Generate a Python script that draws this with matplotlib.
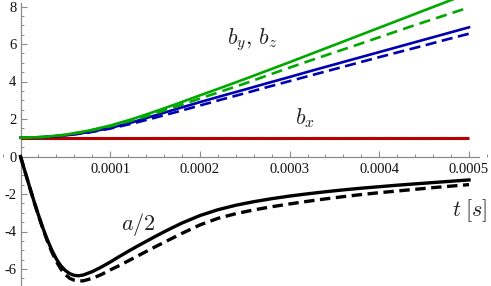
import numpy as np
import matplotlib
matplotlib.use("Agg")
import matplotlib.pyplot as plt
from matplotlib.ticker import MultipleLocator

plt.rcParams['mathtext.fontset'] = 'cm'
plt.rcParams['font.family'] = ['Liberation Serif', 'DejaVu Serif']
plt.rcParams['lines.scale_dashes'] = False

# ---- data ----
# time grid for b curves, in units of 1e-4 s
t_b = [0, 0.25, 0.5, 0.75, 1.0, 1.25, 1.5, 1.75, 2.0, 2.25, 2.5, 2.75, 3.0,
       3.25, 3.5, 3.75, 4.0, 4.25, 4.5, 4.75, 5.0]
by_solid = [1.00, 1.04, 1.16, 1.37, 1.65, 2.00, 2.40, 2.82, 3.26, 3.69, 4.13, 4.58,
            5.03, 5.49, 5.95, 6.41, 6.87, 7.33, 7.79, 8.25, 8.71]
by_dashed = [1.00, 1.04, 1.15, 1.35, 1.61, 1.93, 2.29, 2.69, 3.09, 3.49, 3.89, 4.32,
             4.74, 5.15, 5.55, 5.95, 6.36, 6.77, 7.17, 7.56, 7.95]
bz_solid = [1.00, 1.03, 1.12, 1.29, 1.52, 1.83, 2.19, 2.55, 2.90, 3.24, 3.57, 3.91,
            4.24, 4.58, 4.91, 5.24, 5.57, 5.90, 6.23, 6.56, 6.89]
bz_dashed = [1.00, 1.03, 1.12, 1.27, 1.49, 1.76, 2.07, 2.39, 2.72, 3.05, 3.37, 3.70,
             4.02, 4.34, 4.66, 4.98, 5.30, 5.61, 5.92, 6.24, 6.55]
bx_solid = [1.0] * 21
bx_dashed = [1.0] * 21

# time grid for a/2 curves, in units of 1e-5 s
t_a = [0, 0.5, 1, 1.5, 2, 2.5, 3, 3.5, 4, 4.5, 5, 5.5, 6, 6.5, 7, 8, 9, 10, 11, 12,
       13, 14, 15, 16, 17, 18, 20, 22, 24, 26, 28, 30, 32, 34, 36, 38, 40, 42, 44,
       46, 48, 50]
a_solid = [0, -0.80, -1.60, -2.38, -3.12, -3.82, -4.45, -5.00, -5.47, -5.83, -6.08,
           -6.25, -6.34, -6.36, -6.32, -6.14, -5.90, -5.63, -5.34, -5.06, -4.79, -4.53,
           -4.27, -4.02, -3.78, -3.55, -3.15, -2.84, -2.60, -2.41, -2.25, -2.11, -1.99,
           -1.88, -1.78, -1.69, -1.61, -1.53, -1.46, -1.39, -1.32, -1.25]
a_dashed = [0, -0.80, -1.61, -2.40, -3.15, -3.86, -4.52, -5.10, -5.60, -6.00, -6.30,
            -6.50, -6.60, -6.64, -6.63, -6.50, -6.30, -6.05, -5.82, -5.57, -5.32, -5.07,
            -4.82, -4.58, -4.34, -4.10, -3.65, -3.30, -3.05, -2.85, -2.68, -2.53, -2.39,
            -2.26, -2.14, -2.03, -1.93, -1.84, -1.75, -1.66, -1.58, -1.50]

xticks = [0.0001, 0.0002, 0.0003, 0.0004, 0.0005]
xticklabels = ['0.0001', '0.0002', '0.0003', '0.0004', '0.0005']
yticks = [-6, -4, -2, 0, 2, 4, 6, 8]
yticklabels = ['-6', '-4', '-2', '0', '2', '4', '6', '8']

# ---- figure ----
W, H = 491, 286
fig = plt.figure(figsize=(W / 100, H / 100), dpi=100)
ax = fig.add_axes([0, 0, 1, 1])

px_per_x = 897000.0
x0_px = 20.5
y0_px = 156.5
px_per_y = 18.75
ax.set_xlim(-x0_px / px_per_x, (W - x0_px) / px_per_x)
ax.set_ylim((y0_px - H) / px_per_y, y0_px / px_per_y)

tb = np.array(t_b) * 1e-4
ta = np.array(t_a) * 1e-5

green = '#00a800'
blue = '#0000b0'
red = '#b40000'

ax.plot(tb, bx_solid, color=red, lw=2.2, solid_capstyle='butt', zorder=3)
ax.plot(tb, bx_dashed, color=red, lw=2.2, dashes=(9, 4), zorder=3)
ax.plot(tb, bz_solid, color=blue, lw=1.9, zorder=4)
ax.plot(tb, bz_dashed, color=blue, lw=1.9, dashes=(8, 4), zorder=4)
ax.plot(tb, by_solid, color=green, lw=1.9, zorder=5)
ax.plot(tb, by_dashed, color=green, lw=1.9, dashes=(8, 4.5), zorder=5)
ax.plot(ta, a_solid, color='black', lw=2.4, zorder=6)
ax.plot(ta, a_dashed, color='black', lw=2.4, dashes=(7.5, 4), zorder=6)

# axes through origin
for s in ['top', 'right']:
    ax.spines[s].set_visible(False)
ax.spines['left'].set_position(('data', 0))
ax.spines['bottom'].set_position(('data', 0))
ax.spines['left'].set_bounds((y0_px - H) / px_per_y, (y0_px - 3) / px_per_y)
ax.spines['bottom'].set_bounds(0, 0.000511)
axis_gray = '#8c8c8c'
for s in ['left', 'bottom']:
    ax.spines[s].set_color(axis_gray)
    ax.spines[s].set_linewidth(0.9)

ax.set_xticks(xticks)
ax.set_xticklabels(xticklabels)
ax.set_yticks(yticks)
ax.set_yticklabels(yticklabels)
ax.xaxis.set_minor_locator(MultipleLocator(0.00002))
ax.yaxis.set_minor_locator(MultipleLocator(0.5))
ax.tick_params(axis='both', which='major', direction='in', length=4.5, width=0.8,
               color=axis_gray, labelsize=10.5, labelcolor='#111111')
ax.tick_params(axis='both', which='minor', direction='in', length=2.5, width=0.7,
               color=axis_gray)
ax.tick_params(axis='x', which='major', pad=5)
ax.tick_params(axis='y', which='major', pad=3)

# labels
tc = '#222222'
ax.text(252 / W, 1 - 40 / H, r'$b_y,\, b_z$', transform=ax.transAxes, fontsize=16,
        ha='center', va='center', color=tc)
ax.text(305 / W, 1 - 118 / H, r'$b_x$', transform=ax.transAxes, fontsize=16,
        ha='center', va='center', color=tc)
ax.text(138 / W, 1 - 225 / H, r'$a/2$', transform=ax.transAxes, fontsize=16,
        ha='center', va='center', color=tc)
ax.text(470 / W, 1 - 211 / H, r'$t\;[s]$', transform=ax.transAxes, fontsize=16,
        ha='center', va='center', color=tc)

fig.savefig('out.png', dpi=100)
